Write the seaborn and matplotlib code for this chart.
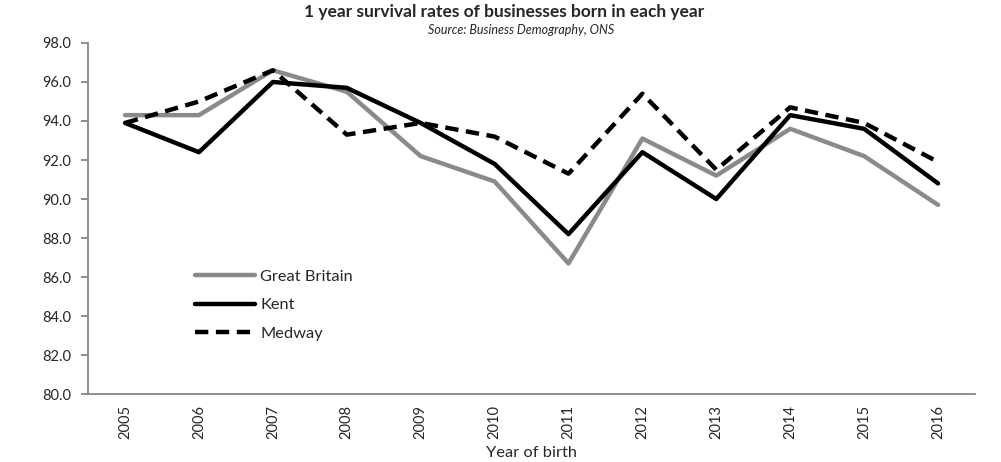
import numpy as np
import pandas as pd
import matplotlib
matplotlib.use("Agg")
import matplotlib.pyplot as plt
import seaborn as sns

# Data
years = [2005, 2006, 2007, 2008, 2009, 2010, 2011, 2012, 2013, 2014, 2015, 2016]
great_britain = [94.3, 94.3, 96.6, 95.5, 92.2, 90.9, 86.7, 93.1, 91.2, 93.6, 92.2, 89.7]
kent = [93.9, 92.4, 96.0, 95.7, 93.9, 91.8, 88.2, 92.4, 90.0, 94.3, 93.6, 90.8]
medway = [93.9, 95.0, 96.6, 93.3, 93.9, 93.2, 91.3, 95.4, 91.5, 94.7, 93.9, 91.9]
series_names = ["Great Britain", "Kent", "Medway"]

df = pd.DataFrame({
    "pos": list(range(len(years))) * 3,
    "rate": great_britain + kent + medway,
    "area": np.repeat(series_names, len(years)),
})

sns.set_style("white")
plt.rcParams["font.family"] = ["Lato", "DejaVu Sans"]

fig = plt.figure(figsize=(10.01, 4.62), dpi=100)
ax = fig.add_axes([0.088, 0.147, 0.886, 0.760])

sns.lineplot(data=df, x="pos", y="rate", hue="area", style="area",
             palette={"Great Britain": "#8a8a8a", "Kent": "black", "Medway": "black"},
             dashes={"Great Britain": "", "Kent": "", "Medway": (3, 1.7)},
             linewidth=3.2, ax=ax, legend=False)

ax.set_xlim(-0.5, len(years) - 0.5)
ax.set_ylim(80, 98)
ax.set_yticks(np.arange(80, 98.1, 2))
ax.set_yticklabels([f"{v:.1f}" for v in np.arange(80, 98.1, 2)], fontsize=10.5)
ax.set_xticks(range(len(years)))
ax.set_xticklabels([str(y) for y in years], rotation=90, fontsize=10.5)
ax.set_xticks(np.arange(-0.5, len(years)), minor=True)
ax.tick_params(axis="x", which="major", length=0, pad=8)
ax.tick_params(axis="x", which="minor", length=6, width=1.3, color="#868686", direction="out")
ax.tick_params(axis="y", length=5, width=1.3, color="#868686", direction="out", left=True, pad=7)

for side in ["top", "right"]:
    ax.spines[side].set_visible(False)
for side in ["left", "bottom"]:
    ax.spines[side].set_color("#868686")
    ax.spines[side].set_linewidth(1.3)

ax.set_xlabel("Year of birth", fontsize=11.8, labelpad=5)
ax.set_ylabel("")

fig.text(0.504, 0.973, "1 year survival rates of businesses born in each year",
         ha="center", va="center", fontsize=12.5, fontweight="bold")
fig.text(0.521, 0.935, "Source: Business Demography, ONS", ha="center", va="center",
         fontsize=9, style="italic")

handles = ax.get_lines()[:3]
ax.legend(handles, series_names, loc="upper left", bbox_to_anchor=(0.121, 0.355),
          frameon=False, fontsize=11.8, handlelength=3.65, handletextpad=0.3,
          labelspacing=0.85, borderpad=0, borderaxespad=0)

fig.savefig("out.png", dpi=100)
